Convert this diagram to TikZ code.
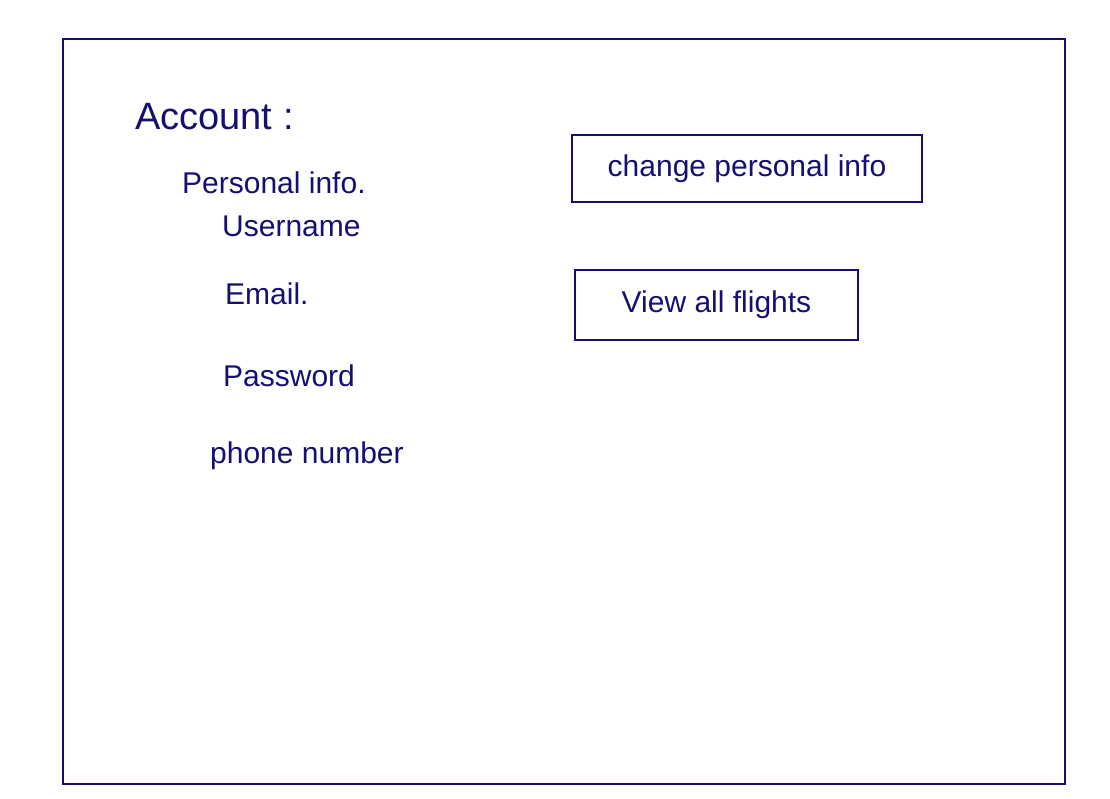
\documentclass[tikz,border=0pt]{standalone}
\usepackage{fontspec}
\setmainfont{Liberation Sans}
\definecolor{ink}{RGB}{22,14,112}
\begin{document}
\begin{tikzpicture}[x=1pt,y=-1pt,
  lbl/.style={anchor=west,inner sep=0pt,text=ink,font=\fontsize{30}{32}\selectfont},
  btn/.style={draw=ink,line width=2pt,text=ink,inner sep=0pt,font=\fontsize{30}{32}\selectfont}]
\useasboundingbox (0,0) rectangle (1110,798);
\draw[ink,line width=2pt] (63,39) rectangle (1065,784);
\node[lbl,font=\fontsize{38}{40}\selectfont] (acc) at (135,117) {Account :};
\node[lbl] (pinfo) at (182,183) {Personal info.};
\node[lbl] (user) at (222,226) {Username};
\node[lbl] (email) at (225,294) {Email.};
\node[lbl] (pass) at (223,376) {Password};
\node[lbl] (phone) at (210,456) {phone number};
\node[btn,minimum width=350pt,minimum height=67pt] (chg) at (747,168.5) {change personal info};
\node[btn,minimum width=283pt,minimum height=70pt] (view) at (716.5,305) {View all flights};
\end{tikzpicture}
\end{document}
